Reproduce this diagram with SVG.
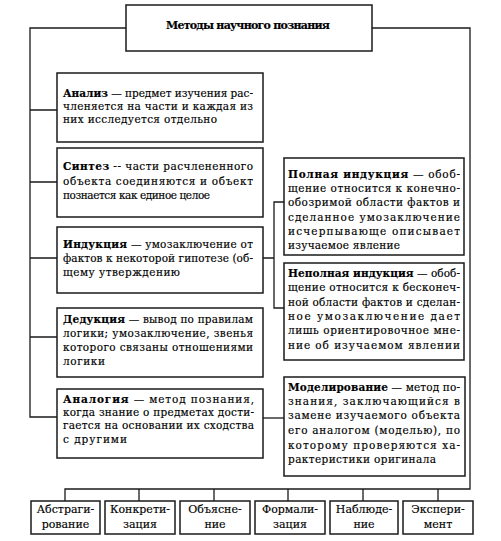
<svg xmlns="http://www.w3.org/2000/svg" width="501" height="541" viewBox="0 0 501 541">
<style>
.box{fill:#fff;stroke:#1a1a1a;stroke-width:1.5}
.conn{fill:none;stroke:#1a1a1a;stroke-width:1.3}
text{font-family:"DejaVu Serif","Liberation Serif",serif;font-size:10.5px;fill:#000;stroke:#000;stroke-width:0.15}
.b{font-weight:bold}
.ttl{font-size:11px;font-weight:bold}
.c{text-anchor:middle;font-size:11px}
</style>
<rect width="501" height="541" fill="#fff"/>
<g id="connectors" class="conn">
<path d="M126,28 H30 V417 H57"/>
<path d="M30,110 H57 M30,182 H57 M30,258 H57 M30,337 H57"/>
<path d="M372,28 H470 V489 H65 V501"/>
<path d="M139,489 V501 M214,489 V501 M288,489 V501 M363,489 V501 M438,489 V501"/>
<path d="M263,258 H274 M284,202 H274 V308 H284"/>
<path d="M263,418 H284"/>
</g>
<g id="title">
<rect class="box" x="126" y="5" width="246" height="46"/>
<text class="ttl" x="166" y="29" textLength="164" lengthAdjust="spacing">Методы научного познания</text>
</g>
<g id="analiz">
<rect class="box" x="57" y="73" width="206" height="69"/>
<text x="63" y="96.7" textLength="190" lengthAdjust="spacing"><tspan class="b">Анализ</tspan> — предмет изучения рас-</text>
<text x="63" y="110" textLength="190" lengthAdjust="spacing">членяется на части и каждая из</text>
<text x="63" y="123.3" textLength="154" lengthAdjust="spacing">них исследуется отдельно</text>
</g>
<g id="sintez">
<rect class="box" x="57" y="148" width="206" height="69"/>
<text x="63" y="170.3" textLength="190" lengthAdjust="spacing"><tspan class="b">Синтез</tspan> -- части расчлененного</text>
<text x="63" y="185" textLength="190" lengthAdjust="spacing">объекта соединяются и объект</text>
<text x="63" y="198.7" textLength="147" lengthAdjust="spacing">познается как единое целое</text>
</g>
<g id="induktsiya">
<rect class="box" x="57" y="227" width="206" height="66"/>
<text x="63" y="247.7" textLength="190" lengthAdjust="spacing"><tspan class="b">Индукция</tspan> — умозаключение от</text>
<text x="63" y="262" textLength="190" lengthAdjust="spacing">фактов к некоторой гипотезе (об-</text>
<text x="63" y="276" textLength="117" lengthAdjust="spacing">щему утверждению</text>
</g>
<g id="deduktsiya">
<rect class="box" x="57" y="308" width="206" height="69"/>
<text x="63" y="322.7" textLength="190" lengthAdjust="spacing"><tspan class="b">Дедукция</tspan> — вывод по правилам</text>
<text x="63" y="337" textLength="190" lengthAdjust="spacing">логики; умозаключение, звенья</text>
<text x="63" y="351" textLength="190" lengthAdjust="spacing">которого связаны отношениями</text>
<text x="63" y="365.3" textLength="42" lengthAdjust="spacing">логики</text>
</g>
<g id="analogiya">
<rect class="box" x="57" y="389" width="206" height="69"/>
<text x="63" y="402.7" textLength="191" lengthAdjust="spacing"><tspan class="b">Аналогия</tspan> — метод познания,</text>
<text x="63" y="416" textLength="191" lengthAdjust="spacing">когда знание о предметах дости-</text>
<text x="63" y="429.3" textLength="191" lengthAdjust="spacing">гается на основании их сходства</text>
<text x="63" y="443.3" textLength="64" lengthAdjust="spacing">с другими</text>
</g>
<g id="polnaya-induktsiya">
<rect class="box" x="284" y="158" width="180" height="97"/>
<text x="288" y="178" textLength="172" lengthAdjust="spacing"><tspan class="b">Полная индукция</tspan> — обоб-</text>
<text x="288" y="192.2" textLength="172" lengthAdjust="spacing">щение относится к конечно-</text>
<text x="288" y="206.4" textLength="172" lengthAdjust="spacing">обозримой области фактов и</text>
<text x="288" y="220.6" textLength="172" lengthAdjust="spacing">сделанное умозаключение</text>
<text x="288" y="234.8" textLength="172" lengthAdjust="spacing">исчерпывающе описывает</text>
<text x="288" y="249" textLength="112" lengthAdjust="spacing">изучаемое явление</text>
</g>
<g id="nepolnaya-induktsiya">
<rect class="box" x="284" y="263" width="180" height="97"/>
<text x="288" y="277" textLength="172" lengthAdjust="spacing"><tspan class="b">Неполная индукция</tspan> — обоб-</text>
<text x="288" y="291.3" textLength="172" lengthAdjust="spacing">щение относится к бесконеч-</text>
<text x="288" y="305.6" textLength="172" lengthAdjust="spacing">ной области фактов и сделан-</text>
<text x="288" y="319.9" textLength="172" lengthAdjust="spacing">ное умозаключение дает</text>
<text x="288" y="334.2" textLength="172" lengthAdjust="spacing">лишь ориентировочное мне-</text>
<text x="288" y="348.5" textLength="172" lengthAdjust="spacing">ние об изучаемом явлении</text>
</g>
<g id="modelirovanie">
<rect class="box" x="284" y="377" width="181" height="99"/>
<text x="288" y="390.5" textLength="172" lengthAdjust="spacing"><tspan class="b">Моделирование</tspan> — метод по-</text>
<text x="288" y="405" textLength="172" lengthAdjust="spacing">знания, заключающийся в</text>
<text x="288" y="419.3" textLength="172" lengthAdjust="spacing">замене изучаемого объекта</text>
<text x="288" y="433.7" textLength="172" lengthAdjust="spacing">его аналогом (моделью), по</text>
<text x="288" y="448.5" textLength="172" lengthAdjust="spacing">которому проверяются ха-</text>
<text x="288" y="462.7" textLength="148" lengthAdjust="spacing">рактеристики оригинала</text>
</g>
<g id="abstragirovanie">
<rect class="box" x="31" y="501" width="69" height="33"/>
<text class="c" x="65.5" y="512.5">Абстраги-</text>
<text class="c" x="65.5" y="528">рование</text>
</g>
<g id="konkretizatsiya">
<rect class="box" x="105" y="501" width="70" height="33"/>
<text class="c" x="140" y="512.5">Конкрети-</text>
<text class="c" x="140" y="528">зация</text>
</g>
<g id="obyasnenie">
<rect class="box" x="180" y="501" width="70" height="33"/>
<text class="c" x="215" y="512.5">Объясне-</text>
<text class="c" x="215" y="528">ние</text>
</g>
<g id="formalizatsiya">
<rect class="box" x="255" y="501" width="70" height="33"/>
<text class="c" x="290" y="512.5">Формали-</text>
<text class="c" x="290" y="528">зация</text>
</g>
<g id="nablyudenie">
<rect class="box" x="330" y="501" width="68" height="33"/>
<text class="c" x="364" y="512.5">Наблюде-</text>
<text class="c" x="364" y="528">ние</text>
</g>
<g id="eksperiment">
<rect class="box" x="403" y="501" width="70" height="33"/>
<text class="c" x="438" y="512.5">Экспери-</text>
<text class="c" x="438" y="528">мент</text>
</g>
</svg>
